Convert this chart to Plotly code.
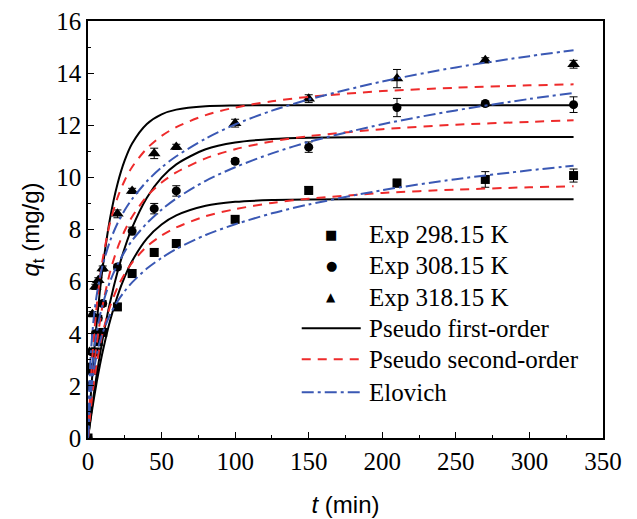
import plotly.graph_objects as go

# Experimental data
t_exp = [0, 1, 3, 5, 7, 10, 20, 30, 45, 60, 100, 150, 210, 270, 330]
q_298 = [0, 2.0, 2.6, 3.3, 3.7, 4.05, 5.03, 6.31, 7.12, 7.46, 8.39, 9.50, 9.78, 9.92, 10.07]
q_308 = [0, 2.72, 3.3, 4.0, 4.6, 5.16, 6.56, 7.94, 8.80, 9.48, 10.62, 11.16, 12.68, 12.83, 12.79]
q_318 = [0, 3.3, 4.75, 5.8, 6.05, 6.5, 8.6, 9.48, 10.92, 11.17, 12.08, 13.02, 13.79, 14.49, 14.34]
err_298 = [0, 0.1, 0.1, 0.1, 0.1, 0.1, 0.1, 0.15, 0.15, 0.15, 0.1, 0.15, 0.15, 0.3, 0.25]
err_308 = [0, 0.1, 0.1, 0.1, 0.1, 0.1, 0.1, 0.15, 0.2, 0.2, 0.1, 0.2, 0.35, 0.1, 0.3]
err_318 = [0, 0.1, 0.1, 0.1, 0.1, 0.1, 0.15, 0.1, 0.2, 0.1, 0.15, 0.15, 0.35, 0.1, 0.15]

# Model curves
t_fit = [0, 1, 2, 4, 6, 8, 10, 15, 20, 25, 30, 40, 50, 60, 80, 100, 125, 150, 200, 250, 300, 330]
pfo_298 = [0, 0.40, 0.79, 1.51, 2.17, 2.77, 3.32, 4.50, 5.44, 6.19, 6.79, 7.65, 8.19, 8.54, 8.91, 9.06, 9.13, 9.15, 9.16, 9.16, 9.16, 9.16]
pfo_308 = [0, 0.45, 0.89, 1.71, 2.46, 3.16, 3.81, 5.21, 6.36, 7.30, 8.07, 9.22, 9.99, 10.50, 11.08, 11.34, 11.47, 11.52, 11.55, 11.55, 11.55, 11.55]
pfo_318 = [0, 0.89, 1.71, 3.20, 4.48, 5.59, 6.55, 8.43, 9.74, 10.66, 11.30, 12.05, 12.42, 12.60, 12.73, 12.76, 12.77, 12.77, 12.77, 12.77, 12.77, 12.77]
pso_298 = [0, 0.63, 1.19, 2.13, 2.89, 3.51, 4.04, 5.05, 5.77, 6.31, 6.73, 7.35, 7.77, 8.08, 8.51, 8.78, 9.02, 9.18, 9.40, 9.53, 9.62, 9.66]
pso_308 = [0, 0.80, 1.50, 2.68, 3.64, 4.43, 5.10, 6.37, 7.28, 7.96, 8.49, 9.27, 9.80, 10.19, 10.73, 11.08, 11.38, 11.58, 11.85, 12.02, 12.13, 12.19]
pso_318 = [0, 1.23, 2.26, 3.89, 5.12, 6.09, 6.86, 8.27, 9.21, 9.89, 10.40, 11.11, 11.59, 11.93, 12.39, 12.68, 12.92, 13.09, 13.31, 13.44, 13.53, 13.57]
elo_298 = [0, 1.05, 1.73, 2.61, 3.22, 3.68, 4.04, 4.74, 5.24, 5.64, 5.97, 6.50, 6.91, 7.25, 7.79, 8.20, 8.62, 8.96, 9.51, 9.93, 10.27, 10.45]
elo_308 = [0, 1.34, 2.20, 3.33, 4.09, 4.67, 5.14, 6.01, 6.65, 7.16, 7.58, 8.24, 8.76, 9.19, 9.87, 10.39, 10.92, 11.36, 12.04, 12.57, 13.01, 13.24]
elo_318 = [0, 2.19, 3.31, 4.66, 5.51, 6.14, 6.64, 7.56, 8.23, 8.75, 9.17, 9.85, 10.38, 10.81, 11.49, 12.03, 12.56, 12.99, 13.68, 14.22, 14.65, 14.88]

x_ticks = [0, 50, 100, 150, 200, 250, 300, 350]
y_ticks = [0, 2, 4, 6, 8, 10, 12, 14, 16]

legend_labels = ["Exp 298.15 K", "Exp 308.15 K", "Exp 318.15 K",
                 "Pseudo first-order", "Pseudo second-order", "Elovich"]

serif = "Liberation Serif, Times New Roman, serif"
sans = "Liberation Sans, Arial, sans-serif"
RED = "#ee2b2b"
BLUE = "#3a58b4"
DASH_PSO = "9px,7px"
DASH_ELO = "12px,4px,3px,4px"

fig = go.Figure()

exp_sets = [
    (legend_labels[0], q_298, err_298, "square", 9),
    (legend_labels[1], q_308, err_308, "circle", 9),
    (legend_labels[2], q_318, err_318, "triangle-up", 11),
]
for name, q, e, sym, sz in exp_sets:
    fig.add_trace(go.Scatter(
        x=t_exp, y=q, mode="markers", name=name, showlegend=False,
        marker=dict(symbol=sym, size=sz, color="black"),
        error_y=dict(type="data", array=e, visible=True, color="black", thickness=1, width=4),
    ))

models = [
    (legend_labels[3], [pfo_298, pfo_308, pfo_318], dict(color="black", width=2, dash="solid")),
    (legend_labels[4], [pso_298, pso_308, pso_318], dict(color=RED, width=2, dash=DASH_PSO)),
    (legend_labels[5], [elo_298, elo_308, elo_318], dict(color=BLUE, width=2, dash=DASH_ELO)),
]
for name, curves, ln in models:
    for c in curves:
        fig.add_trace(go.Scatter(
            x=t_fit, y=c, mode="lines", name=name, showlegend=False,
            line=dict(shape="spline", smoothing=0.8, **ln),
        ))

# Legend drawn inside the plot area (paper coordinates)
row_y = [0.4885, 0.4141, 0.3374, 0.2631, 0.1887, 0.1096]
text_x = 0.541
sym_x = 0.4727
line_x0, line_x1 = 0.415, 0.5296
annotations = []
shapes = []
glyphs = [("■", 13), ("●", 13), ("▲", 12)]
for i, lab in enumerate(legend_labels):
    annotations.append(dict(
        xref="paper", yref="paper", x=text_x, y=row_y[i], xanchor="left", yanchor="middle",
        text=lab, showarrow=False, font=dict(family=serif, size=25, color="black"),
    ))
for i, (g, s) in enumerate(glyphs):
    annotations.append(dict(
        xref="paper", yref="paper", x=sym_x, y=row_y[i], xanchor="center", yanchor="middle",
        text=g, showarrow=False, font=dict(family="DejaVu Sans", size=s, color="black"),
    ))
for j, (_, _, ln) in enumerate(models):
    yy = row_y[3 + j]
    shapes.append(dict(
        type="line", xref="paper", yref="paper", x0=line_x0, x1=line_x1, y0=yy, y1=yy,
        line=dict(color=ln["color"], width=2, dash=ln["dash"]),
    ))

axis_common = dict(
    showline=True, linecolor="black", linewidth=1.5, mirror=True,
    ticks="inside", ticklen=6, tickwidth=1.2, tickcolor="black",
    showgrid=False, zeroline=False, automargin=False, ticklabeloverflow="allow",
    tickfont=dict(family=serif, size=25, color="black"),
)

fig.update_layout(
    width=637, height=519,
    margin=dict(l=80, r=42, t=13, b=89),
    paper_bgcolor="white", plot_bgcolor="white",
    xaxis=dict(
        range=[0, 350], tickvals=x_ticks,
        minor=dict(ticks="inside", ticklen=3, tickcolor="black", dtick=25, tick0=0),
        title=dict(text="<i>t</i> (min)", font=dict(family=sans, size=24, color="black"), standoff=22),
        **axis_common,
    ),
    yaxis=dict(
        range=[0, 16], tickvals=y_ticks,
        minor=dict(ticks="inside", ticklen=3, tickcolor="black", dtick=1, tick0=0),
        title=dict(text="<i>q</i><sub>t</sub> (mg/g)", font=dict(family=sans, size=24, color="black"), standoff=10),
        **axis_common,
    ),
    annotations=annotations,
    shapes=shapes,
    showlegend=False,
)

fig.write_html("out.html")
